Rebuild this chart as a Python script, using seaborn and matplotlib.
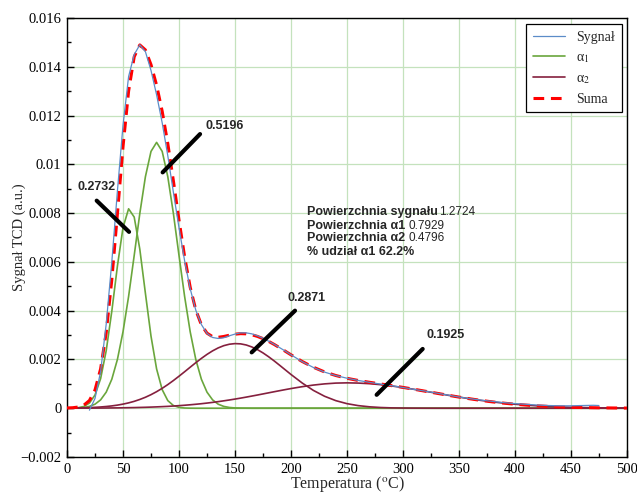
import matplotlib
matplotlib.use('Agg')
import matplotlib.pyplot as plt
import numpy as np
import seaborn as sns
from matplotlib.ticker import MultipleLocator, FuncFormatter

# temperature grid of the fitted components (5 C steps up to 200, then 10 C)
temps = np.concatenate([np.arange(0, 205, 5), np.arange(210, 510, 10)])

# alpha1, first (low temperature) peak
alpha1_a = [0.000001, 0.000005, 0.000021, 0.000071, 0.000210, 0.000542, 0.001212,
            0.002358, 0.003977, 0.005825, 0.007406, 0.008177, 0.007837, 0.006522,
            0.004713, 0.002956, 0.001610, 0.000761, 0.000312, 0.000111, 0.000034,
            0.000009, 0.000002] + [0.0] * 48
# alpha1, second peak
alpha1_b = [0.000002, 0.000005, 0.000012, 0.000031, 0.000074, 0.000165, 0.000342,
            0.000659, 0.001188, 0.001998, 0.003134, 0.004587, 0.006264, 0.007982,
            0.009491, 0.010529, 0.010900, 0.010529, 0.009491, 0.007982, 0.006264,
            0.004587, 0.003134, 0.001998, 0.001188, 0.000659, 0.000342, 0.000165,
            0.000074, 0.000031, 0.000012, 0.000005, 0.000002] + [0.0] * 38
# alpha2, peak near 150 C
alpha2_a = [0.000006, 0.000008, 0.000012, 0.000018, 0.000026, 0.000036, 0.000051,
            0.000070, 0.000095, 0.000127, 0.000168, 0.000219, 0.000282, 0.000359,
            0.000449, 0.000556, 0.000678, 0.000816, 0.000969, 0.001135, 0.001312,
            0.001495, 0.001682, 0.001867, 0.002043, 0.002207, 0.002352, 0.002473,
            0.002565, 0.002624, 0.002649, 0.002639, 0.002593, 0.002513, 0.002404,
            0.002268, 0.002111, 0.001939, 0.001756, 0.001570, 0.001384,
            0.001034, 0.000731, 0.000490, 0.000311, 0.000187, 0.000107, 0.000058,
            0.000029, 0.000014, 0.000007, 0.000003, 0.000001] + [0.0] * 18
# alpha2, broad peak near 250 C
alpha2_b = [0.000002, 0.000002, 0.000003, 0.000004, 0.000005, 0.000006, 0.000007,
            0.000009, 0.000012, 0.000014, 0.000018, 0.000022, 0.000026, 0.000032,
            0.000038, 0.000046, 0.000055, 0.000065, 0.000076, 0.000090, 0.000105,
            0.000122, 0.000141, 0.000162, 0.000185, 0.000211, 0.000239, 0.000270,
            0.000303, 0.000338, 0.000375, 0.000414, 0.000455, 0.000498, 0.000541,
            0.000586, 0.000631, 0.000676, 0.000720, 0.000764, 0.000806,
            0.000883, 0.000949, 0.000998, 0.001030, 0.001040, 0.001031, 0.001006,
            0.000966, 0.000912, 0.000847, 0.000774, 0.000695, 0.000615, 0.000534,
            0.000457, 0.000385, 0.000318, 0.000259, 0.000208, 0.000164, 0.000127,
            0.000097, 0.000073, 0.000054, 0.000039, 0.000028, 0.000020, 0.000014,
            0.000009, 0.000006]

suma = np.array(alpha1_a) + np.array(alpha1_b) + np.array(alpha2_a) + np.array(alpha2_b)

# measured TCD signal
signal_temps = list(range(20, 205, 5)) + list(range(210, 480, 10)) + [475]
signal = [-0.00008, 0.00040, 0.00150, 0.00345, 0.00600, 0.00890, 0.01160, 0.01360,
          0.01450, 0.01490, 0.01462, 0.01385, 0.01285, 0.01170, 0.01035, 0.00885,
          0.00740, 0.00605, 0.00490, 0.00402, 0.00343, 0.00307, 0.00290, 0.00286,
          0.00289, 0.00297, 0.00304, 0.00309, 0.00309, 0.00305, 0.00297, 0.00287,
          0.00275, 0.00262, 0.00248, 0.00234, 0.00219,
          0.00191, 0.00167, 0.00148, 0.00134, 0.00123, 0.00114, 0.00106, 0.00099,
          0.00092, 0.00085, 0.00077, 0.00070, 0.00062, 0.00054, 0.00046, 0.00039,
          0.00033, 0.00028, 0.00023, 0.00019, 0.00016, 0.00013, 0.00011, 0.00010,
          0.00010, 0.00011, 0.00012, 0.00011]

peak_areas = [0.2732, 0.5196, 0.2871, 0.1925]
area_signal = 1.2724
area_alpha1 = 0.7929
area_alpha2 = 0.4796
share_alpha1 = 62.2

BLUE = '#5b8cc8'
GREEN = '#6aa63c'
MAROON = '#85203e'
RED = '#ff0000'

sns.set_theme(style='ticks')
plt.rcParams['font.family'] = ['Liberation Serif', 'DejaVu Serif']
plt.rcParams['mathtext.fontset'] = 'stix'

fig = plt.figure(figsize=(6.37, 4.94), dpi=100)
ax = fig.add_axes([0.1052, 0.0749, 0.879, 0.8887])

sns.lineplot(x=signal_temps, y=signal, ax=ax, color=BLUE, lw=0.9, label='Sygnał', zorder=4)
sns.lineplot(x=temps, y=alpha1_a, ax=ax, color=GREEN, lw=1.2, label='α$_1$', zorder=2)
sns.lineplot(x=temps, y=alpha1_b, ax=ax, color=GREEN, lw=1.2, zorder=2)
sns.lineplot(x=temps, y=alpha2_a, ax=ax, color=MAROON, lw=1.2, label='α$_2$', zorder=2.5)
sns.lineplot(x=temps, y=alpha2_b, ax=ax, color=MAROON, lw=1.2, zorder=2.5)
sns.lineplot(x=temps, y=suma, ax=ax, color=RED, lw=2.2, ls=(0, (3.5, 2.2)), label='Suma', zorder=3)

ax.set_xlim(0, 500)
ax.set_ylim(-0.002, 0.016)
ax.xaxis.set_major_locator(MultipleLocator(50))
ax.xaxis.set_minor_locator(MultipleLocator(25))
ax.yaxis.set_major_locator(MultipleLocator(0.002))
ax.yaxis.set_minor_locator(MultipleLocator(0.001))
ax.yaxis.set_major_formatter(FuncFormatter(lambda v, _: ('%g' % round(v, 4)).replace('-', '\u2212')))
ax.grid(True, which='major', color='#c4e2bd', lw=0.9)
ax.set_axisbelow(True)
ax.tick_params(which='both', direction='in', top=False, right=False, colors='black', labelsize=10.5, pad=4)
ax.tick_params(which='major', length=5, width=1)
ax.tick_params(which='minor', length=3, width=1)
for s in ax.spines.values():
    s.set_visible(True)
    s.set_color('black')
    s.set_linewidth(1.0)

ax.set_xlabel('Temperatura ($^{\\mathrm{o}}$C)', fontsize=11.5, labelpad=-1)
ax.set_ylabel('Sygnał TCD (a.u.)', fontsize=10.5)
ax.yaxis.set_label_coords(-0.073, 0.5)

leg = ax.legend(loc='upper right', bbox_to_anchor=(0.991, 0.986), frameon=True, fancybox=False,
                edgecolor='black', framealpha=1, fontsize=10, handlelength=2.3,
                borderpad=0.5, labelspacing=0.5, borderaxespad=0)
leg.get_frame().set_linewidth(0.9)

# pointer lines to the fitted peaks with their areas
pointers = [((26.5, 0.00851), (55.4, 0.00723), (9.8, 0.00908)),
            ((85.4, 0.00967), (118.8, 0.01124), (124.1, 0.01158)),
            ((164.9, 0.00229), (203.6, 0.00400), (197.3, 0.00453)),
            ((276.5, 0.00055), (317.6, 0.00243), (321.2, 0.00301))]
for area, (p0, p1, tpos) in zip(peak_areas, pointers):
    ax.annotate('', xy=p0, xytext=p1,
                arrowprops=dict(arrowstyle='-', color='black', lw=3, shrinkA=0, shrinkB=0), zorder=6)
    ax.text(tpos[0], tpos[1], f'{area:.4f}', family='Liberation Sans', fontweight='bold',
            fontsize=9, va='center', ha='left', zorder=6)

bold = dict(family='Liberation Sans', fontweight='bold', fontsize=9, va='center', ha='left')
plain = dict(family='Liberation Sans', fontsize=8.5, va='center', ha='left')
ax.text(214, 0.00803, 'Powierzchnia sygnału', **bold)
ax.text(332.5, 0.00803, f'{area_signal:.4f}', **plain)
ax.text(214, 0.00748, 'Powierzchnia α1', **bold)
ax.text(305, 0.00748, f'{area_alpha1:.4f}', **plain)
ax.text(214, 0.00696, 'Powierzchnia α2', **bold)
ax.text(305, 0.00696, f'{area_alpha2:.4f}', **plain)
ax.text(214, 0.00642, f'% udział α1 {share_alpha1:.1f}%', **bold)

fig.savefig('out.png', dpi=100)
